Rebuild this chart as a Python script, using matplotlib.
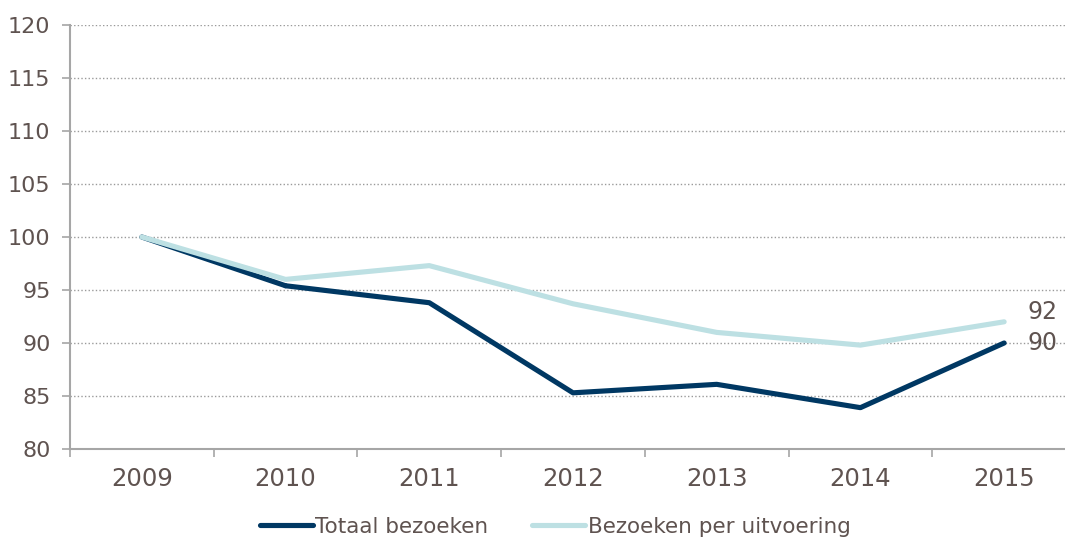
import numpy as np
import matplotlib
matplotlib.use("Agg")
import matplotlib.pyplot as plt
from matplotlib.ticker import FixedLocator
from matplotlib.lines import Line2D

# ── Data ──────
years = ["2009", "2010", "2011", "2012", "2013", "2014", "2015"]
totaal = [100, 95.4, 93.8, 85.3, 86.1, 83.9, 90.0]
per_uitvoering = [100, 96.0, 97.3, 93.7, 91.0, 89.8, 92.0]

dark = "#003863"
light = "#bde0e3"
txt = "#5f5350"
axis_col = "#a6a6a6"

plt.rcParams["font.family"] = ["DejaVu Sans"]

fig = plt.figure(figsize=(10.65, 5.41), dpi=100)
ax = fig.add_axes([70 / 1065, 92 / 541, 1006 / 1065, 424 / 541])

x = np.arange(len(years))
lw = 3.7
ax.plot(x, per_uitvoering, color=light, lw=lw, solid_capstyle="round", solid_joinstyle="round", zorder=2)
ax.plot(x[1:], totaal[1:], color=dark, lw=lw, solid_capstyle="round", solid_joinstyle="round", zorder=3)
ax.plot(x[:2], totaal[:2], color=dark, lw=lw, solid_capstyle="round", zorder=1)

# end labels
ax.text(x[-1] + 0.165, per_uitvoering[-1] + 0.9, f"{per_uitvoering[-1]:.0f}", color=txt,
        fontsize=17, va="center", ha="left")
ax.text(x[-1] + 0.165, totaal[-1], f"{totaal[-1]:.0f}", color=txt,
        fontsize=17, va="center", ha="left")

ax.set_xlim(-0.5, 6.5)
ax.set_ylim(80, 120)
ax.set_yticks(np.arange(80, 121, 5))
ax.set_xticks(x)
ax.set_xticklabels(years)
ax.xaxis.set_minor_locator(FixedLocator(np.arange(-0.5, 7, 1)))

ax.grid(axis="y", color="#9a9a9a", linestyle=(0, (1, 1.6)), lw=1.0)
ax.set_axisbelow(True)

for s in ["top", "right"]:
    ax.spines[s].set_visible(False)
for s in ["left", "bottom"]:
    ax.spines[s].set_color(axis_col)
    ax.spines[s].set_linewidth(1.5)

ax.tick_params(axis="y", colors=axis_col, labelcolor=txt, labelsize=16, length=6, width=1.2, pad=8)
ax.tick_params(axis="x", which="major", length=0, labelcolor=txt, labelsize=17.5, pad=13)
ax.tick_params(axis="x", which="minor", colors=axis_col, length=6, width=1.2)

handles = [Line2D([], [], color=dark, lw=lw, solid_capstyle="round"),
           Line2D([], [], color=light, lw=lw, solid_capstyle="round")]
labels = ["Totaal bezoeken", "Bezoeken per uitvoering"]
leg = fig.legend(handles, labels, loc="center", bbox_to_anchor=(555 / 1065, 1 - 527 / 541), ncol=2,
                 frameon=False, fontsize=15.5, handlelength=2.5, handletextpad=0.1,
                 columnspacing=2.0, borderpad=0)
for t in leg.get_texts():
    t.set_color(txt)

fig.savefig("out.png", dpi=100)
